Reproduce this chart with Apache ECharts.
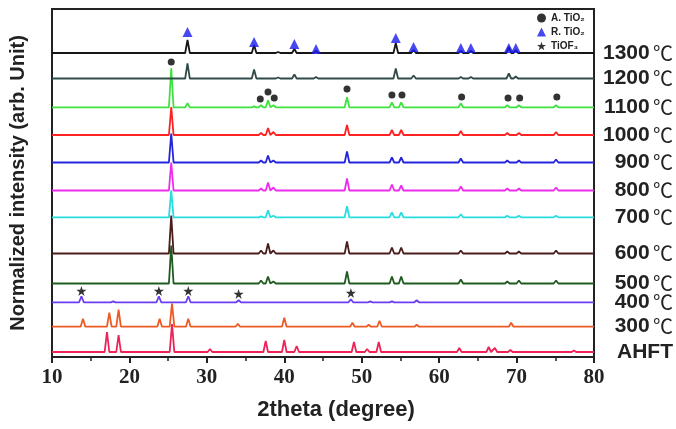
<!DOCTYPE html>
<html><head><meta charset="utf-8">
<script src="https://cdn.jsdelivr.net/npm/echarts@6/dist/echarts.min.js"></script>
<style>html,body{margin:0;padding:0;background:#fff}#c{width:676px;height:429px}</style>
</head><body><div id="c"></div>
<script>
// Sample names (bottom to top)
const sampleNames = ['AHFT', '300', '400', '500', '600', '700', '800', '900', '1000', '1100', '1200', '1300'];
// Vertical stacking offset of each pattern (arb. units)
const offsets = [5, 30.3, 54.7, 73.5, 103.5, 139.7, 166.5, 194.5, 222, 249.7, 278.5, 304];
const colors = ['#ee2257', '#ee5a24', '#6a3ef0', '#1f5a1f', '#4a1c1c', '#26dede', '#ee2cee', '#2424dd', '#ff2222', '#3fe23f', '#2f4a48', '#151515'];

// Peaks: [2theta, intensity above baseline]
const peaksAHFT = [[17.1,20],[18.6,17],[25.5,28],[30.4,3],[37.6,11],[40.0,12],[41.6,6],[49.0,10],[50.7,3],[52.2,10],[62.6,4],[66.4,5],[67.2,4],[69.2,2],[77.4,1.5]];
const peaks300 = [[14.0,8],[17.4,14],[18.6,17],[23.9,8],[25.5,23],[27.6,8],[34.0,3],[40.0,9],[48.8,4],[50.9,2],[52.3,6],[57.1,2],[69.3,4]];
const peaks400 = [[13.8,6],[17.9,1],[23.8,6],[27.6,6],[34.1,2],[48.6,3],[51.1,1],[53.9,1],[57.1,2]];
const peaks500 = [[25.4,38],[37.0,3],[37.9,7],[38.6,2],[48.1,12],[53.9,7],[55.1,7],[62.8,4],[68.8,2],[70.3,3],[75.1,3]];
const peaks600 = [[25.4,38],[37.0,3],[37.9,10],[38.6,3],[48.1,12],[53.9,6],[55.1,6],[62.8,3],[68.8,2],[70.3,2],[75.1,3]];
const peaks700 = [[25.4,27],[37.0,1],[37.9,7],[38.6,1.5],[48.1,11],[53.9,5],[55.1,5],[62.8,3],[68.8,1.5],[70.3,1.5],[75.1,1.5]];
const peaks800 = [[25.4,28],[37.0,2],[37.9,8],[38.6,3],[48.1,12],[53.9,6],[55.1,5],[62.8,4],[68.8,2],[70.3,2],[75.1,3]];
const peaks900 = [[25.4,29],[37.0,2],[37.9,7],[38.6,2],[48.1,11],[53.9,5],[55.1,5],[62.8,4],[68.8,2],[70.3,2],[75.1,3]];
const peaks1000 = [[25.4,28],[37.0,2],[37.9,7],[38.6,3],[48.1,10],[53.9,5],[55.1,5],[62.8,4],[68.8,2],[70.3,2],[75.1,3]];
const peaks1100 = [[25.4,39],[27.5,4],[36.1,1],[37.0,2],[37.9,7],[38.6,2],[48.1,10],[53.9,5],[55.1,5],[62.8,4],[68.8,2],[70.3,2],[75.1,2]];
const peaks1200 = [[27.5,15],[36.1,9],[39.2,1],[41.3,4],[44.1,1.5],[54.4,10],[56.7,3],[62.8,1.5],[64.1,1.5],[69.0,5],[69.9,2]];
const peaks1300 = [[27.5,13],[36.1,8],[39.2,1],[41.3,4],[44.1,2],[54.4,10],[56.7,3],[62.8,2],[64.1,2],[69.0,6],[69.9,3]];
const allPeaks = [peaksAHFT, peaks300, peaks400, peaks500, peaks600, peaks700, peaks800, peaks900, peaks1000, peaks1100, peaks1200, peaks1300];

// Phase markers: [2theta, level]
const anataseMarks = [[25.4,295],[36.9,258],[37.9,265],[38.7,259],[48.1,268],[53.9,262],[55.2,262],[62.9,260],[68.9,259],[70.4,259],[75.2,260]];
const rutileMarks = [[27.5,325],[36.1,315],[41.3,313],[44.1,308],[54.4,319],[56.7,310],[62.8,309],[64.1,309],[69.0,309],[69.9,309]];
const tiof3Marks = [[13.8,66],[23.8,66],[27.6,66],[34.1,63],[48.6,64]];

const xTicks = [10, 20, 30, 40, 50, 60, 70, 80];

const HW = 0.3;
function buildPattern(peaks, base) {
  const pts = [[10, base]];
  peaks.slice().sort((a, b) => a[0] - b[0]).forEach(p => {
    pts.push([p[0] - HW, base]);
    pts.push([p[0], base + p[1]]);
    pts.push([p[0] + HW, base]);
  });
  pts.push([80, base]);
  return pts;
}

const series = [];
sampleNames.forEach((n, i) => {
  const isT = n !== 'AHFT';
  series.push({
    type: 'line', name: n, data: buildPattern(allPeaks[i], offsets[i]),
    symbol: 'none', silent: true, z: 2 + i,
    lineStyle: { color: colors[i], width: 1.8 },
    endLabel: {
      show: true, distance: 0, align: 'right', verticalAlign: 'middle', offset: [79, 0],
      formatter: isT ? ('{t|' + n + '} {c|℃}') : '{t|AHFT}',
      rich: {
        t: { fontFamily: 'Liberation Sans, Arial', fontWeight: 'bold', fontSize: 21, color: '#222' },
        c: { fontFamily: 'Noto Sans CJK SC', fontWeight: 'normal', fontSize: 20, color: '#222' }
      }
    }
  });
});
series.push({ type: 'scatter', name: 'A. TiO\u2082', data: anataseMarks, symbol: 'circle', symbolSize: 7, itemStyle: { color: '#000' }, z: 20 });
series.push({ type: 'scatter', name: 'R. TiO\u2082', data: rutileMarks, symbol: 'triangle', symbolSize: 10, itemStyle: { color: '#1a1aee' }, z: 20 });
series.push({ type: 'scatter', name: 'TiOF\u2083', data: tiof3Marks, symbol: 'path://M50,0 L61.8,35.3 L98.9,35.3 L68.9,57.3 L80.3,92.7 L50,70.6 L19.7,92.7 L31.1,57.3 L1.1,35.3 L38.2,35.3 Z', symbolSize: 10, itemStyle: { color: '#000' }, z: 20 });

const chart = echarts.init(document.getElementById('c'), null, { renderer: 'canvas' });
chart.setOption({
  animation: false,
  backgroundColor: '#fff',
  grid: { left: 52, right: 82, top: 9, bottom: 72, show: true, borderColor: '#222', borderWidth: 2, containLabel: false },
  legend: {
    data: ['A. TiO\u2082', 'R. TiO\u2082', 'TiOF\u2083'],
    orient: 'vertical', left: 532, top: 8, itemWidth: 9, itemHeight: 9, itemGap: 4,
    textStyle: { fontSize: 10, fontFamily: 'Liberation Sans, Arial', color: '#222', fontWeight: 'bold' }
  },
  xAxis: {
    type: 'value', min: xTicks[0], max: xTicks[xTicks.length - 1], interval: 10,
    name: '2theta (degree)', nameLocation: 'middle', nameGap: 42,
    nameTextStyle: { fontFamily: 'Liberation Sans, Arial', fontWeight: 'bold', fontSize: 22, color: '#222', padding: [0, 0, 0, 26] },
    axisLine: { lineStyle: { color: '#222', width: 2 } },
    axisTick: { show: true, inside: false, length: 6, lineStyle: { color: '#222', width: 2 } },
    minorTick: { show: true, splitNumber: 2, length: 4, lineStyle: { color: '#222', width: 1.5 } },
    splitLine: { show: false },
    axisLabel: { fontFamily: 'Liberation Serif, Times New Roman', fontWeight: 'bold', fontSize: 21, color: '#222', margin: 10 }
  },
  yAxis: {
    type: 'value', min: 0, max: 348,
    name: 'Normalized intensity (arb. Unit)', nameLocation: 'middle', nameGap: 24, nameRotate: 90,
    nameTextStyle: { fontFamily: 'Liberation Sans, Arial', fontWeight: 'bold', fontSize: 20, color: '#222' },
    axisLine: { show: true, lineStyle: { color: '#222', width: 2 } },
    axisTick: { show: false }, axisLabel: { show: false }, splitLine: { show: false }
  },
  series: series
});
</script></body></html>
